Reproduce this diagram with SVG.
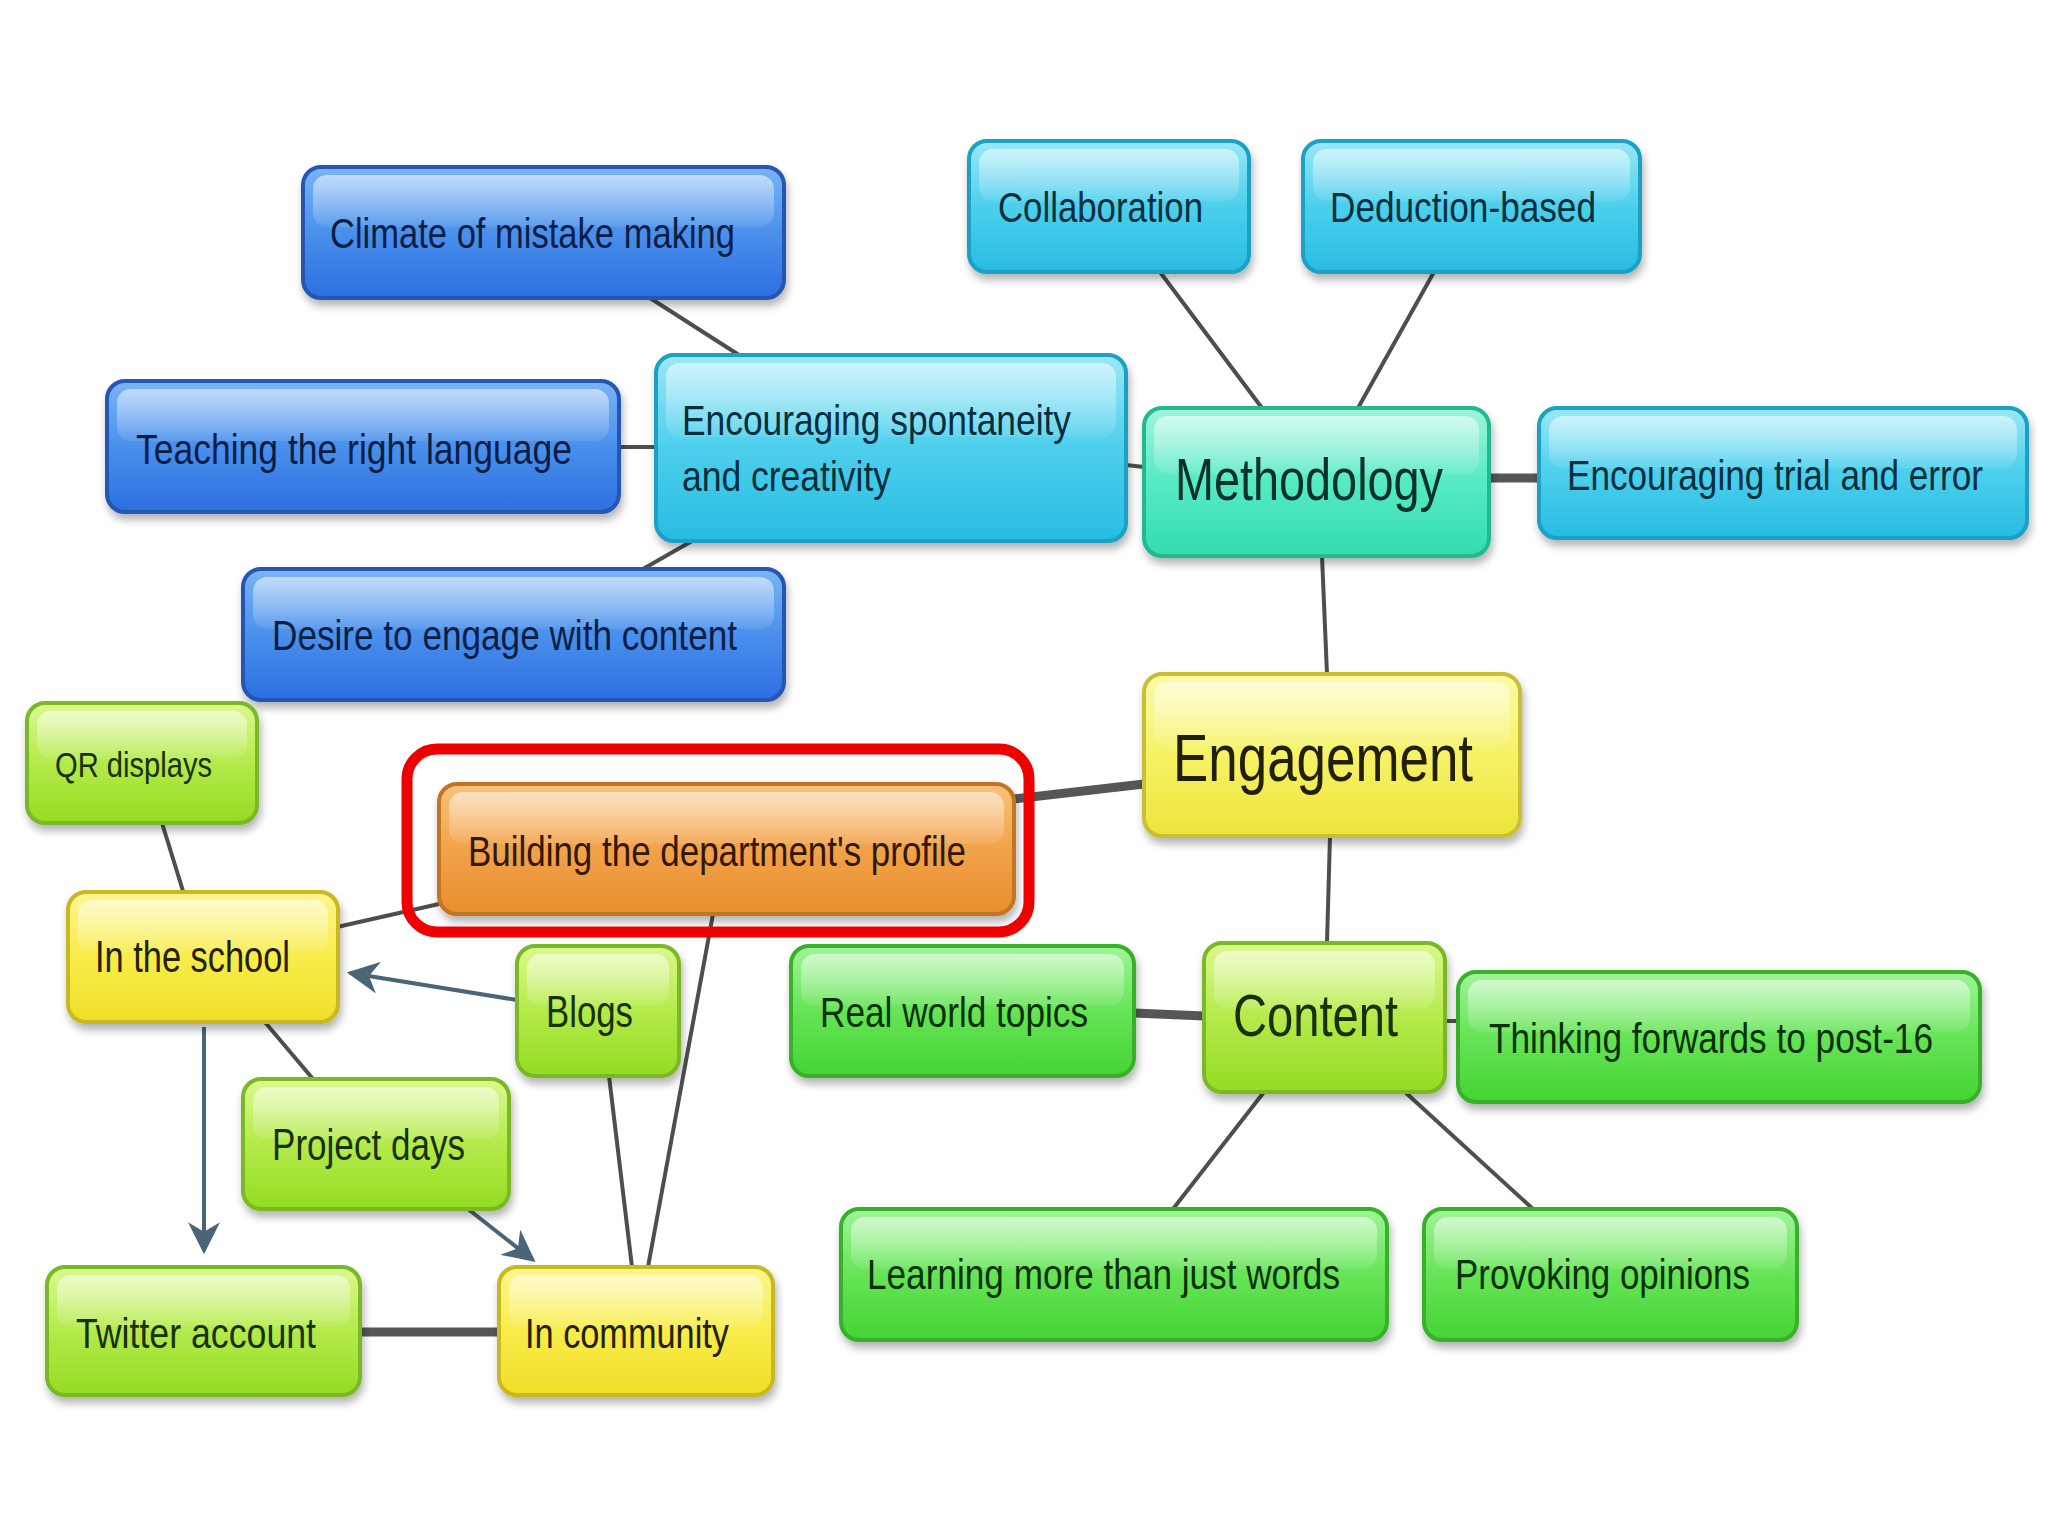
<svg xmlns="http://www.w3.org/2000/svg" width="2048" height="1536" viewBox="0 0 2048 1536">
<defs>
<linearGradient id="gBlue" x1="0" y1="0" x2="0" y2="1"><stop offset="0" stop-color="#7ab4f4"/><stop offset="0.5" stop-color="#4a90ec"/><stop offset="1" stop-color="#2c6ee0"/></linearGradient>
<linearGradient id="gCyan" x1="0" y1="0" x2="0" y2="1"><stop offset="0" stop-color="#9ae8f8"/><stop offset="0.5" stop-color="#4ccfec"/><stop offset="1" stop-color="#28bce2"/></linearGradient>
<linearGradient id="gTeal" x1="0" y1="0" x2="0" y2="1"><stop offset="0" stop-color="#a0f4dc"/><stop offset="0.5" stop-color="#56eac4"/><stop offset="1" stop-color="#34dcb0"/></linearGradient>
<linearGradient id="gYellow" x1="0" y1="0" x2="0" y2="1"><stop offset="0" stop-color="#fbfba8"/><stop offset="0.5" stop-color="#f6f266"/><stop offset="1" stop-color="#ece43a"/></linearGradient>
<linearGradient id="gYellow2" x1="0" y1="0" x2="0" y2="1"><stop offset="0" stop-color="#fdf690"/><stop offset="0.5" stop-color="#f8ec4a"/><stop offset="1" stop-color="#f0de26"/></linearGradient>
<linearGradient id="gOrange" x1="0" y1="0" x2="0" y2="1"><stop offset="0" stop-color="#f8c27a"/><stop offset="0.5" stop-color="#f2a24a"/><stop offset="1" stop-color="#e88e2e"/></linearGradient>
<linearGradient id="gLime" x1="0" y1="0" x2="0" y2="1"><stop offset="0" stop-color="#dcf890"/><stop offset="0.5" stop-color="#b4ea4a"/><stop offset="1" stop-color="#94dc22"/></linearGradient>
<linearGradient id="gGreen" x1="0" y1="0" x2="0" y2="1"><stop offset="0" stop-color="#a0f498"/><stop offset="0.5" stop-color="#66e456"/><stop offset="1" stop-color="#44d434"/></linearGradient>
<linearGradient id="gloss" x1="0" y1="0" x2="0" y2="1"><stop offset="0" stop-color="#ffffff" stop-opacity="0.55"/><stop offset="1" stop-color="#ffffff" stop-opacity="0.08"/></linearGradient>
<filter id="sh" x="-10%" y="-10%" width="120%" height="130%"><feGaussianBlur in="SourceAlpha" stdDeviation="4"/><feOffset dx="2" dy="6" result="b"/><feComponentTransfer><feFuncA type="linear" slope="0.3"/></feComponentTransfer><feMerge><feMergeNode/><feMergeNode in="SourceGraphic"/></feMerge></filter>
<marker id="arr" viewBox="0 0 10 10" refX="9" refY="5" markerWidth="8" markerHeight="8" orient="auto" markerUnits="strokeWidth"><path d="M0,0 L10,5 L0,10 L3,5 Z" fill="#4a6478"/></marker>
</defs>
<style>
.n{filter:url(#sh);stroke-width:4}
.g{stroke:none;fill:url(#gloss)}
.blue{fill:url(#gBlue);stroke:#2856b4}
.cyan{fill:url(#gCyan);stroke:#1ca0c4}
.teal{fill:url(#gTeal);stroke:#22b890}
.yel{fill:url(#gYellow);stroke:#c8c030}
.yel2{fill:url(#gYellow2);stroke:#c8b820}
.org{fill:url(#gOrange);stroke:#c47424}
.lime{fill:url(#gLime);stroke:#7ab828}
.grn{fill:url(#gGreen);stroke:#38b02c}
text{font-family:"Liberation Sans",Arial,sans-serif;font-size:43px}
text.big{font-size:60px}
text.eng{font-size:66px}
text.sm{font-size:35px}
text.m44{font-size:44px}
.tb{fill:#0a1e44}
.tc{fill:#062e3c}
.tt{fill:#06302a}
.ty{fill:#222004}
.to{fill:#301804}
.tl{fill:#183006}
.tg{fill:#0a3006}
.ln{stroke:#4e4e4e;stroke-width:4;fill:none}
.thk{stroke:#565656;stroke-width:9;fill:none}
.ar{stroke:#4a6478;stroke-width:4;fill:none;marker-end:url(#arr)}
</style>
<rect width="2048" height="1536" fill="#ffffff"/>
<g id="connectors">
<line class="ln" x1="650" y1="298" x2="739" y2="355"/>
<line class="ln" x1="619" y1="447" x2="656" y2="447"/>
<line class="ln" x1="643" y1="569" x2="692" y2="541"/>
<line class="ln" x1="1126" y1="465" x2="1144" y2="467"/>
<line class="ln" x1="1160" y1="272" x2="1262" y2="408"/>
<line class="ln" x1="1434" y1="272" x2="1358" y2="408"/>
<line class="thk" x1="1489" y1="478" x2="1539" y2="478"/>
<line class="ln" x1="1322" y1="556" x2="1327" y2="674"/>
<line class="thk" x1="1144" y1="784" x2="1014" y2="799"/>
<line class="ln" x1="1330" y1="836" x2="1327" y2="943"/>
<line class="thk" x1="1134" y1="1013" x2="1204" y2="1016"/>
<line class="ln" x1="1445" y1="1021" x2="1458" y2="1021"/>
<line class="ln" x1="1264" y1="1092" x2="1173" y2="1209"/>
<line class="ln" x1="1405" y1="1092" x2="1533" y2="1209"/>
<line class="ln" x1="439" y1="904" x2="337" y2="927"/>
<line class="ln" x1="713" y1="914" x2="648" y2="1267"/>
<line class="ln" x1="162" y1="823" x2="183" y2="891"/>
<line class="ar" x1="517" y1="1000" x2="350" y2="973"/>
<line class="ln" x1="264" y1="1021" x2="313" y2="1079"/>
<line class="ar" x1="204" y1="1027" x2="204" y2="1251"/>
<line class="ar" x1="468" y1="1209" x2="533" y2="1260"/>
<line class="ln" x1="609" y1="1076" x2="632" y2="1267"/>
<line class="thk" x1="360" y1="1332" x2="499" y2="1332"/>
</g>
<g id="climate"><rect class="n blue" x="303" y="167" width="481" height="131" rx="18"/><rect class="g" x="313" y="175" width="461" height="52" rx="14"/><text class="tb" x="330" y="248" textLength="405" lengthAdjust="spacingAndGlyphs">Climate of mistake making</text></g>
<g id="teaching"><rect class="n blue" x="107" y="381" width="512" height="131" rx="18"/><rect class="g" x="117" y="389" width="492" height="52" rx="14"/><text class="tb" x="136" y="464" textLength="436" lengthAdjust="spacingAndGlyphs">Teaching the right language</text></g>
<g id="spontaneity"><rect class="n cyan" x="656" y="355" width="470" height="186" rx="18"/><rect class="g" x="666" y="363" width="450" height="74" rx="14"/><text class="tc" x="682" y="435" textLength="389" lengthAdjust="spacingAndGlyphs">Encouraging spontaneity</text><text class="tc" x="682" y="491" textLength="209" lengthAdjust="spacingAndGlyphs">and creativity</text></g>
<g id="desire"><rect class="n blue" x="243" y="569" width="541" height="131" rx="18"/><rect class="g" x="253" y="577" width="521" height="52" rx="14"/><text class="tb" x="272" y="650" textLength="465" lengthAdjust="spacingAndGlyphs">Desire to engage with content</text></g>
<g id="collaboration"><rect class="n cyan" x="969" y="141" width="280" height="131" rx="18"/><rect class="g" x="979" y="149" width="260" height="52" rx="14"/><text class="tc" x="998" y="222" textLength="205" lengthAdjust="spacingAndGlyphs">Collaboration</text></g>
<g id="deduction"><rect class="n cyan" x="1303" y="141" width="337" height="131" rx="18"/><rect class="g" x="1313" y="149" width="317" height="52" rx="14"/><text class="tc" x="1330" y="222" textLength="266" lengthAdjust="spacingAndGlyphs">Deduction-based</text></g>
<g id="methodology"><rect class="n teal" x="1144" y="408" width="345" height="148" rx="18"/><rect class="g" x="1154" y="416" width="325" height="58" rx="14"/><text class="tt big" x="1175" y="500" textLength="268" lengthAdjust="spacingAndGlyphs">Methodology</text></g>
<g id="trial"><rect class="n cyan" x="1539" y="408" width="488" height="130" rx="18"/><rect class="g" x="1549" y="416" width="468" height="52" rx="14"/><text class="tc" x="1567" y="490" textLength="416" lengthAdjust="spacingAndGlyphs">Encouraging trial and error</text></g>
<g id="engagement"><rect class="n yel" x="1144" y="674" width="376" height="162" rx="18"/><rect class="g" x="1154" y="682" width="356" height="64" rx="14"/><text class="ty eng" x="1173" y="781" textLength="300" lengthAdjust="spacingAndGlyphs">Engagement</text></g>
<g id="qr"><rect class="n lime" x="27" y="703" width="230" height="120" rx="18"/><rect class="g" x="37" y="711" width="210" height="48" rx="14"/><text class="tl sm" x="55" y="777" textLength="157" lengthAdjust="spacingAndGlyphs">QR displays</text></g>
<g id="building"><rect class="n org" x="439" y="784" width="575" height="130" rx="18"/><rect class="g" x="449" y="792" width="555" height="52" rx="14"/><text class="to" x="468" y="866" textLength="498" lengthAdjust="spacingAndGlyphs">Building the department's profile</text></g>
<g id="highlight"><rect x="407" y="749" width="622" height="183" rx="30" fill="none" stroke="#ee0000" stroke-width="11"/></g>
<g id="school"><rect class="n yel2" x="68" y="892" width="270" height="130" rx="18"/><rect class="g" x="78" y="900" width="250" height="52" rx="14"/><text class="ty m44" x="95" y="972" textLength="195" lengthAdjust="spacingAndGlyphs">In the school</text></g>
<g id="blogs"><rect class="n lime" x="517" y="946" width="162" height="130" rx="18"/><rect class="g" x="527" y="954" width="142" height="52" rx="14"/><text class="tl m44" x="546" y="1027" textLength="87" lengthAdjust="spacingAndGlyphs">Blogs</text></g>
<g id="realworld"><rect class="n grn" x="791" y="946" width="343" height="130" rx="18"/><rect class="g" x="801" y="954" width="323" height="52" rx="14"/><text class="tg" x="820" y="1027" textLength="268" lengthAdjust="spacingAndGlyphs">Real world topics</text></g>
<g id="content"><rect class="n lime" x="1204" y="943" width="241" height="149" rx="18"/><rect class="g" x="1214" y="951" width="221" height="58" rx="14"/><text class="tl big" x="1233" y="1036" textLength="165" lengthAdjust="spacingAndGlyphs">Content</text></g>
<g id="thinking"><rect class="n grn" x="1458" y="972" width="522" height="130" rx="18"/><rect class="g" x="1468" y="980" width="502" height="52" rx="14"/><text class="tg" x="1489" y="1053" textLength="444" lengthAdjust="spacingAndGlyphs">Thinking forwards to post-16</text></g>
<g id="project"><rect class="n lime" x="243" y="1079" width="266" height="130" rx="18"/><rect class="g" x="253" y="1087" width="246" height="52" rx="14"/><text class="tl m44" x="272" y="1160" textLength="193" lengthAdjust="spacingAndGlyphs">Project days</text></g>
<g id="learning"><rect class="n grn" x="841" y="1209" width="546" height="131" rx="18"/><rect class="g" x="851" y="1217" width="526" height="52" rx="14"/><text class="tg" x="867" y="1289" textLength="473" lengthAdjust="spacingAndGlyphs">Learning more than just words</text></g>
<g id="provoking"><rect class="n grn" x="1424" y="1209" width="373" height="131" rx="18"/><rect class="g" x="1434" y="1217" width="353" height="52" rx="14"/><text class="tg" x="1455" y="1289" textLength="295" lengthAdjust="spacingAndGlyphs">Provoking opinions</text></g>
<g id="twitter"><rect class="n lime" x="47" y="1267" width="313" height="128" rx="18"/><rect class="g" x="57" y="1275" width="293" height="52" rx="14"/><text class="tl" x="76" y="1348" textLength="240" lengthAdjust="spacingAndGlyphs">Twitter account</text></g>
<g id="community"><rect class="n yel2" x="499" y="1267" width="274" height="128" rx="18"/><rect class="g" x="509" y="1275" width="254" height="52" rx="14"/><text class="ty" x="525" y="1348" textLength="204" lengthAdjust="spacingAndGlyphs">In community</text></g>
</svg>
